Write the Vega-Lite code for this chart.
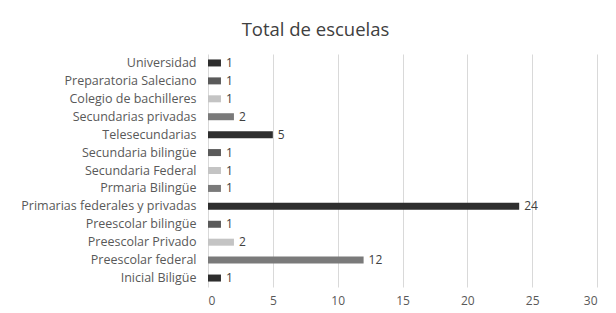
{
  "$schema": "https://vega.github.io/schema/vega-lite/v6.json",
  "autosize": "none",
  "width": 389,
  "height": 233,
  "padding": {"left": 208, "top": 54, "right": 19, "bottom": 26},
  "background": "white",
  "title": {"text": "Total de escuelas", "fontSize": 18.5, "font": "Open Sans", "fontWeight": "normal", "color": "#404040", "anchor": "middle", "dx": -87, "offset": 15},
  "data": {"values": [
    {"cat": "Universidad", "n": 1, "tone": "a"},
    {"cat": "Preparatoria Saleciano", "n": 1, "tone": "b"},
    {"cat": "Colegio de bachilleres", "n": 1, "tone": "c"},
    {"cat": "Secundarias privadas", "n": 2, "tone": "d"},
    {"cat": "Telesecundarias", "n": 5, "tone": "a"},
    {"cat": "Secundaria bilingüe", "n": 1, "tone": "b"},
    {"cat": "Secundaria Federal", "n": 1, "tone": "c"},
    {"cat": "Prmaria Bilingüe", "n": 1, "tone": "d"},
    {"cat": "Primarias federales y privadas", "n": 24, "tone": "a"},
    {"cat": "Preescolar bilingüe", "n": 1, "tone": "b"},
    {"cat": "Preescolar Privado", "n": 2, "tone": "c"},
    {"cat": "Preescolar federal", "n": 12, "tone": "d"},
    {"cat": "Inicial Biligüe", "n": 1, "tone": "a"}
  ]},
  "encoding": {
    "y": {"field": "cat", "type": "nominal", "sort": null, "title": null,
      "scale": {"paddingInner": 0.6, "paddingOuter": 0.3},
      "axis": {"domain": false, "ticks": false, "labelFont": "Open Sans", "labelFontSize": 12.5, "labelColor": "#595959", "labelPadding": 12, "grid": false, "labelLimit": 300}},
    "x": {"field": "n", "type": "quantitative", "title": null,
      "scale": {"domain": [0, 30], "nice": false},
      "axis": {"values": [0, 5, 10, 15, 20, 25, 30], "domain": false, "ticks": false, "labelFont": "Open Sans", "labelFontSize": 12, "labelColor": "#595959", "labelPadding": 8, "gridColor": "#d9d9d9", "gridWidth": 1}}
  },
  "layer": [
    {"mark": {"type": "bar", "size": 7},
     "encoding": {"color": {"field": "tone", "type": "nominal", "legend": null,
       "scale": {"domain": ["a", "b", "c", "d"], "range": ["#2e2e2e", "#5a5a5a", "#c4c4c4", "#7a7a7a"]}}}},
    {"mark": {"type": "text", "align": "left", "baseline": "middle", "dx": 5, "font": "Open Sans", "fontSize": 12, "color": "#404040"},
     "encoding": {"text": {"field": "n", "type": "quantitative"}}}
  ],
  "config": {"view": {"stroke": null}}
}
